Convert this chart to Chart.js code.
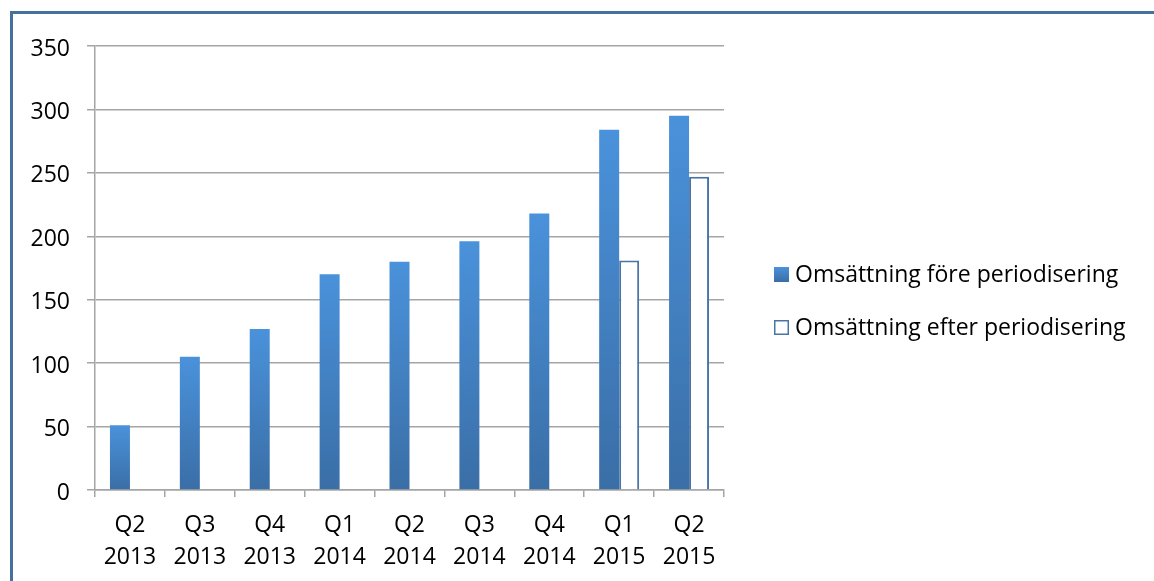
<!DOCTYPE html>
<html>
<head>
<meta charset="utf-8">
<script src="https://cdn.jsdelivr.net/npm/chart.js@4/dist/chart.umd.min.js"></script>
<style>
  html, body { margin: 0; padding: 0; background: #fff; }
  #frame {
    position: absolute; left: 10px; top: 11px; width: 1200px; height: 600px;
    border-left: 3px solid #46719f; border-top: 3px solid #46719f;
  }
  #wrap { position: absolute; left: 0; top: 0; width: 1154px; height: 581px; }
</style>
</head>
<body>
<div id="frame"></div>
<div id="wrap"><canvas id="chart"></canvas></div>
<script>
// kvartal
const labels = [
  ["Q2", "2013"], ["Q3", "2013"], ["Q4", "2013"],
  ["Q1", "2014"], ["Q2", "2014"], ["Q3", "2014"], ["Q4", "2014"],
  ["Q1", "2015"], ["Q2", "2015"]
];
const foreValues = [51, 105, 127, 170, 180, 196, 218, 284, 295];
const efterValues = [null, null, null, null, null, null, null, 181, 247];
const yTicks = [0, 50, 100, 150, 200, 250, 300, 350];

const FONT = "'Open Sans', 'Noto Sans', sans-serif";
const GRID = "#a5a5a5";
const LIGHT = "#4a92db";
const DARK = "#3a6ea6";

function BarGradient(ctx) {
  const solid = "#3f7fc4";
  if (ctx.type !== "data" || !ctx.parsed) return solid;
  const y = ctx.chart.scales.y;
  if (!y) return solid;
  const top = y.getPixelForValue(ctx.parsed.y);
  const base = y.getPixelForValue(0);
  if (!isFinite(top) || !isFinite(base) || top === base) return solid;
  const g = ctx.chart.ctx.createLinearGradient(0, top, 0, base);
  g.addColorStop(0, LIGHT);
  g.addColorStop(1, DARK);
  return g;
}

// legend till höger, ritad på samma canvas
const sideLegend = {
  id: "sideLegend",
  afterDraw(chart) {
    const c = chart.ctx;
    const x = chart.chartArea.right + 50;
    let y = 267;
    c.save();
    c.font = "23px " + FONT;
    c.textBaseline = "middle";
    chart.data.datasets.forEach((ds, i) => {
      if (i === 0) {
        const g = c.createLinearGradient(0, y, 0, y + 15);
        g.addColorStop(0, LIGHT);
        g.addColorStop(1, DARK);
        c.fillStyle = g;
        c.fillRect(x, y, 15, 15);
      } else {
        c.fillStyle = ds.backgroundColor;
        c.fillRect(x, y, 15, 15);
        c.strokeStyle = ds.borderColor;
        c.lineWidth = 1.5;
        c.strokeRect(x + 0.75, y + 0.75, 13.5, 13.5);
      }
      c.fillStyle = "#000";
      c.fillText(ds.label, x + 21, y + 8);
      y += 53;
    });
    c.restore();
  },
};

new Chart(document.getElementById("chart"), {
  type: "bar",
  data: {
    labels: labels,
    datasets: [
      {
        label: "Omsättning före periodisering",
        data: foreValues,
        backgroundColor: BarGradient,
        borderWidth: 0,
        categoryPercentage: 0.572,
        barPercentage: 1,
      },
      {
        label: "Omsättning efter periodisering",
        data: efterValues,
        backgroundColor: "#ffffff",
        borderColor: "#4a74a5",
        borderWidth: 2,
        categoryPercentage: 0.572,
        barPercentage: 1,
      },
    ],
  },
  options: {
    responsive: true,
    maintainAspectRatio: false,
    animation: false,
    layout: { padding: { top: 46, bottom: 0, left: 0, right: 430 } },
    plugins: {
      tooltip: { enabled: false },
      legend: { display: false },
    },
    scales: {
      x: {
        grid: {
          offset: true,
          drawOnChartArea: false,
          color: GRID,
          lineWidth: 1.5,
          tickLength: 7,
        },
        border: { color: GRID, width: 1.5 },
        ticks: {
          font: { family: FONT, size: 23, lineHeight: 1.37 },
          color: "#000",
          padding: 13,
          maxRotation: 0,
        },
        afterFit: (s) => { s.height = 91; },
      },
      y: {
        min: yTicks[0],
        max: yTicks[yTicks.length - 1],
        grid: { color: GRID, lineWidth: 1.5, tickLength: 8 },
        border: { color: GRID, width: 1.5 },
        ticks: {
          stepSize: yTicks[1] - yTicks[0],
          font: { family: FONT, size: 23 },
          color: "#000",
          padding: 17,
          labelOffset: 3,
        },
        afterFit: (s) => { s.width = 95; },
      },
    },
  },
  plugins: [sideLegend],
});
</script>
</body>
</html>
